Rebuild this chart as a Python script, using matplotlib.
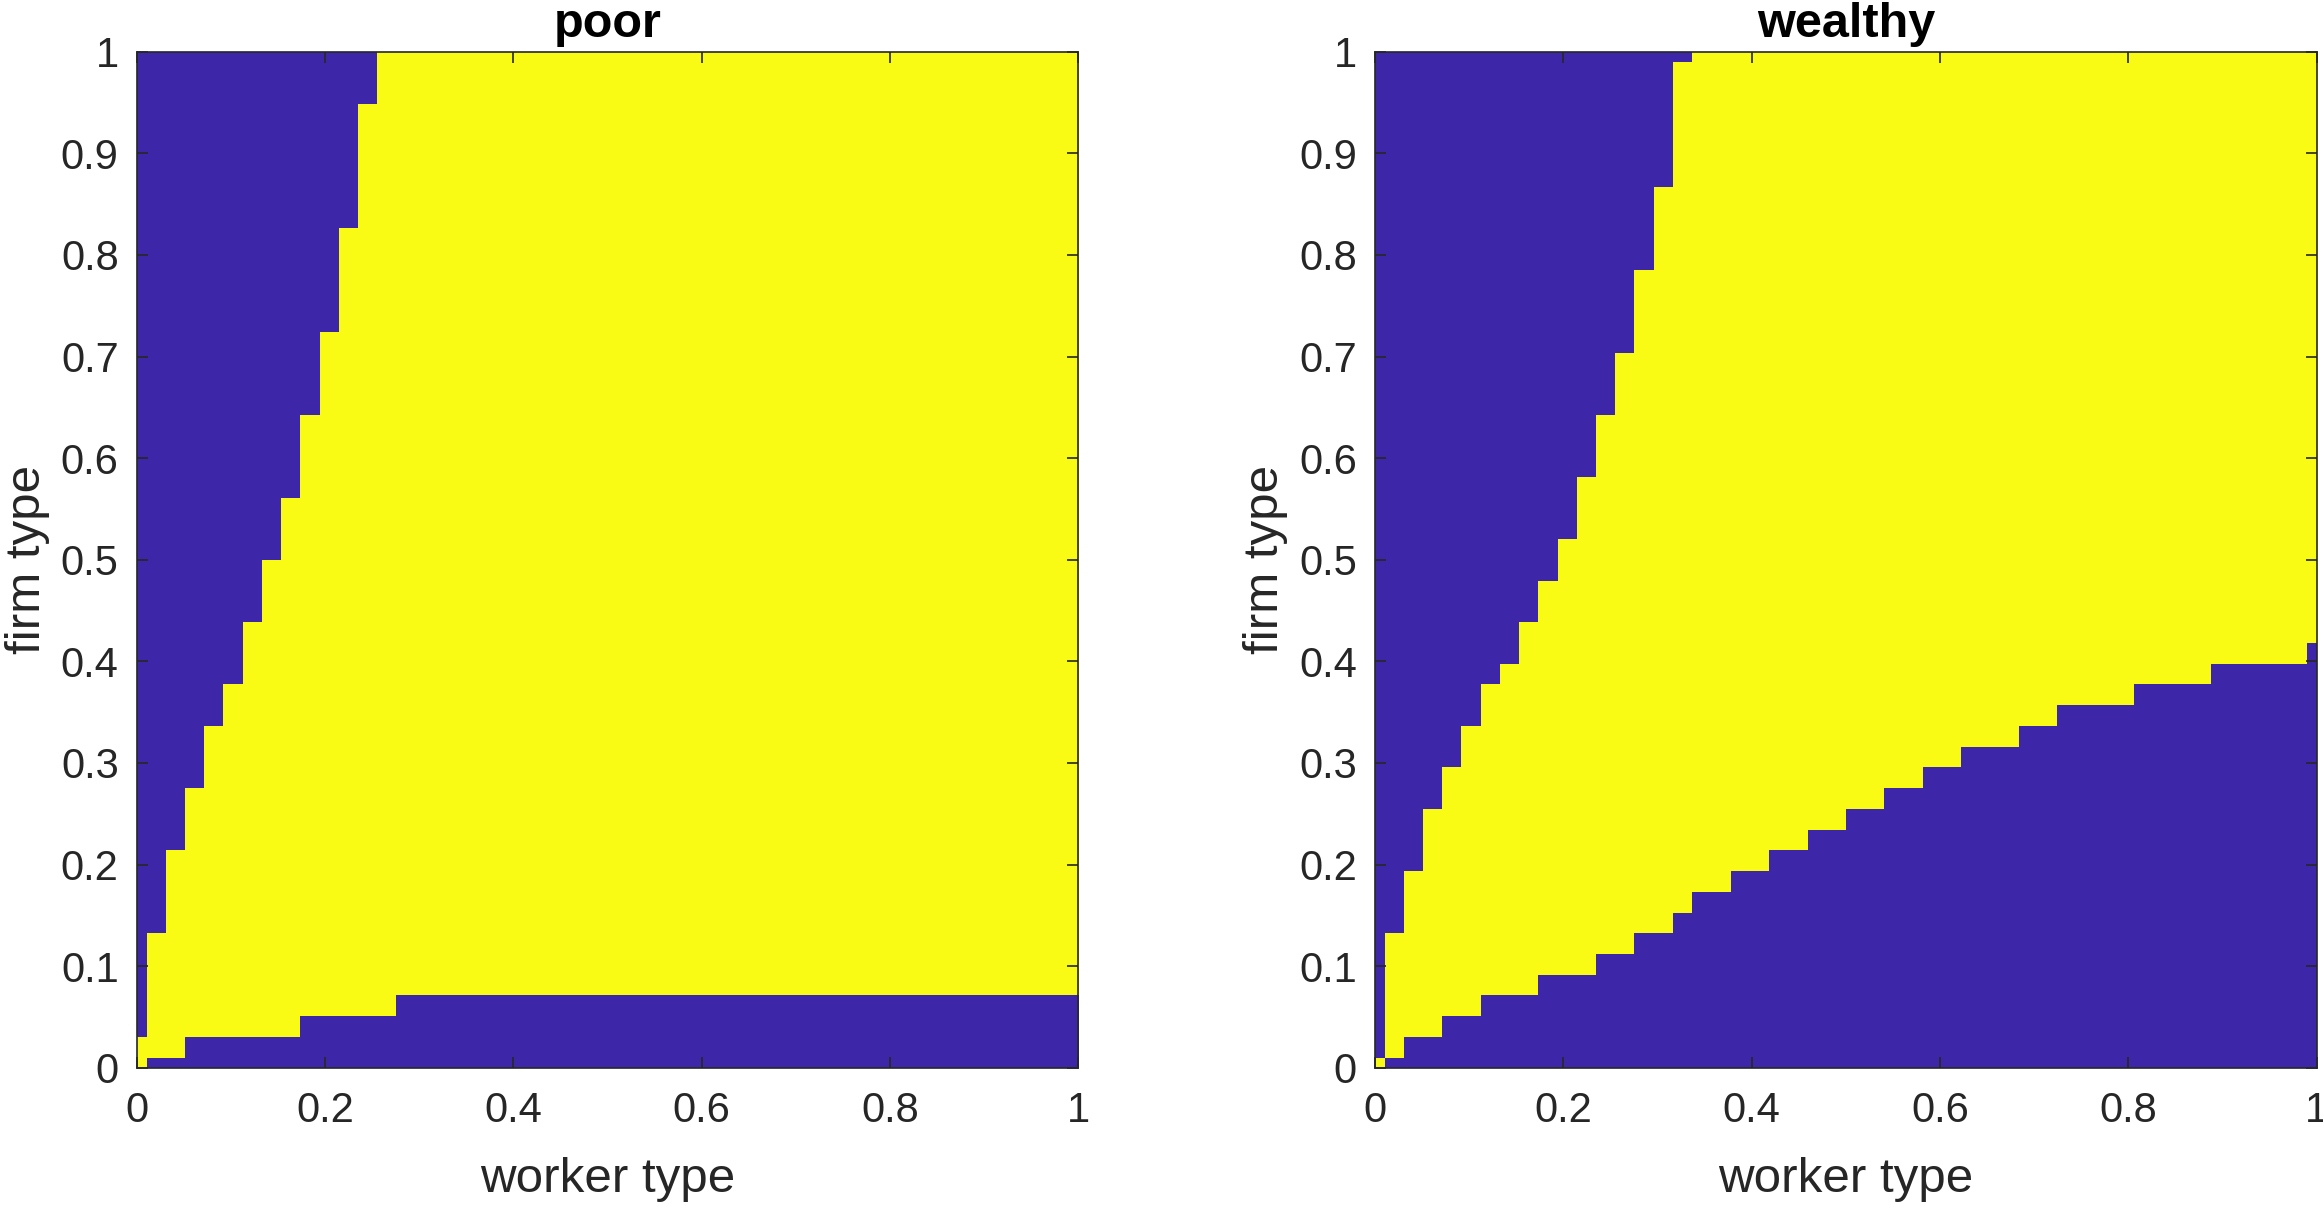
import numpy as np
import matplotlib
matplotlib.use("Agg")
import matplotlib.pyplot as plt
from matplotlib.colors import ListedColormap

plt.rcParams['font.family'] = ['Liberation Sans', 'DejaVu Sans']

# Grid: 50 worker types x 50 firm types on [0, 1]
n_grid = 50
titles = ["poor", "wealthy"]
xlabel = "worker type"
ylabel = "firm type"
xtick_vals = [0, 0.2, 0.4, 0.6, 0.8, 1]
xtick_labels = ["0", "0.2", "0.4", "0.6", "0.8", "1"]
ytick_vals = [0, 0.1, 0.2, 0.3, 0.4, 0.5, 0.6, 0.7, 0.8, 0.9, 1]
ytick_labels = ["0", "0.1", "0.2", "0.3", "0.4", "0.5", "0.6", "0.7", "0.8", "0.9", "1"]

# For each worker-type column: highest / lowest firm-type row index of the yellow region
poor_upper = [1, 6, 10, 13, 16, 18, 21, 24, 27, 31, 35, 40, 46, 49, 49, 49, 49, 49, 49, 49,
              49, 49, 49, 49, 49, 49, 49, 49, 49, 49, 49, 49, 49, 49, 49, 49, 49, 49, 49, 49,
              49, 49, 49, 49, 49, 49, 49, 49, 49, 49]
poor_lower = [0, 1, 1, 2, 2, 2, 2, 2, 2, 3, 3, 3, 3, 3, 4, 4, 4, 4, 4, 4,
              4, 4, 4, 4, 4, 4, 4, 4, 4, 4, 4, 4, 4, 4, 4, 4, 4, 4, 4, 4,
              4, 4, 4, 4, 4, 4, 4, 4, 4, 4]
wealthy_upper = [0, 6, 9, 12, 14, 16, 18, 19, 21, 23, 25, 28, 31, 34, 38, 42, 48, 49, 49, 49,
                 49, 49, 49, 49, 49, 49, 49, 49, 49, 49, 49, 49, 49, 49, 49, 49, 49, 49, 49, 49,
                 49, 49, 49, 49, 49, 49, 49, 49, 49, 49]
wealthy_lower = [0, 1, 2, 2, 3, 3, 4, 4, 4, 5, 5, 5, 6, 6, 7, 7, 8, 9, 9, 10,
                 10, 11, 11, 12, 12, 13, 13, 14, 14, 15, 15, 16, 16, 16, 17, 17, 18, 18, 18, 18,
                 19, 19, 19, 19, 20, 20, 20, 20, 20, 21]

blue = "#3E26A8"
yellow = "#F9FB15"
cmap = ListedColormap([blue, yellow])


def build_matrix(upper, lower):
    rows = np.arange(n_grid)[:, None]
    up = np.asarray(upper)[None, :]
    lo = np.asarray(lower)[None, :]
    return ((rows >= lo) & (rows <= up)).astype(float)


W, H = 2323, 1205
fig = plt.figure(figsize=(W / 100, H / 100), dpi=100)

ax_w = 941.6 / W
ax_h = 1016 / H
ax_b = 1 - 1067.7 / H
lefts = [136.7 / W, 1375 / W]
datasets = [(poor_upper, poor_lower), (wealthy_upper, wealthy_lower)]

half = 0.5 / (n_grid - 1)
for left, title, (up, lo) in zip(lefts, titles, datasets):
    ax = fig.add_axes([left, ax_b, ax_w, ax_h])
    M = build_matrix(up, lo)
    ax.imshow(M, origin='lower', cmap=cmap, vmin=0, vmax=1, interpolation='nearest',
              extent=[-half, 1 + half, -half, 1 + half], aspect='auto')
    ax.set_xlim(0, 1)
    ax.set_ylim(0, 1)
    ax.set_xticks(xtick_vals)
    ax.set_xticklabels(xtick_labels)
    ax.set_yticks(ytick_vals)
    ax.set_yticklabels(ytick_labels)
    ax.tick_params(axis='both', which='both', direction='in', length=8, width=1.2,
                   colors='#262626', labelsize=30, top=True, right=True)
    ax.tick_params(axis='x', pad=17)
    ax.tick_params(axis='y', pad=13)
    for lab in ax.get_xticklabels() + ax.get_yticklabels():
        lab.set_color('#262626')
    for sp in ax.spines.values():
        sp.set_color('#262626')
        sp.set_linewidth(1.2)
    ax.set_title(title, fontsize=35, fontweight='bold', pad=10.4, color='black')
    ax.set_xlabel(xlabel, fontsize=35.5, color='#262626', va='baseline')
    ax.xaxis.set_label_coords(0.5, (1067.7 - 1191.7) / 1016)
    ax.set_ylabel(ylabel, fontsize=35.5, color='#262626')
    ax.yaxis.set_label_coords((50 - 136.7) / 941.6, 0.5)

fig.savefig("out.png", dpi=100)
